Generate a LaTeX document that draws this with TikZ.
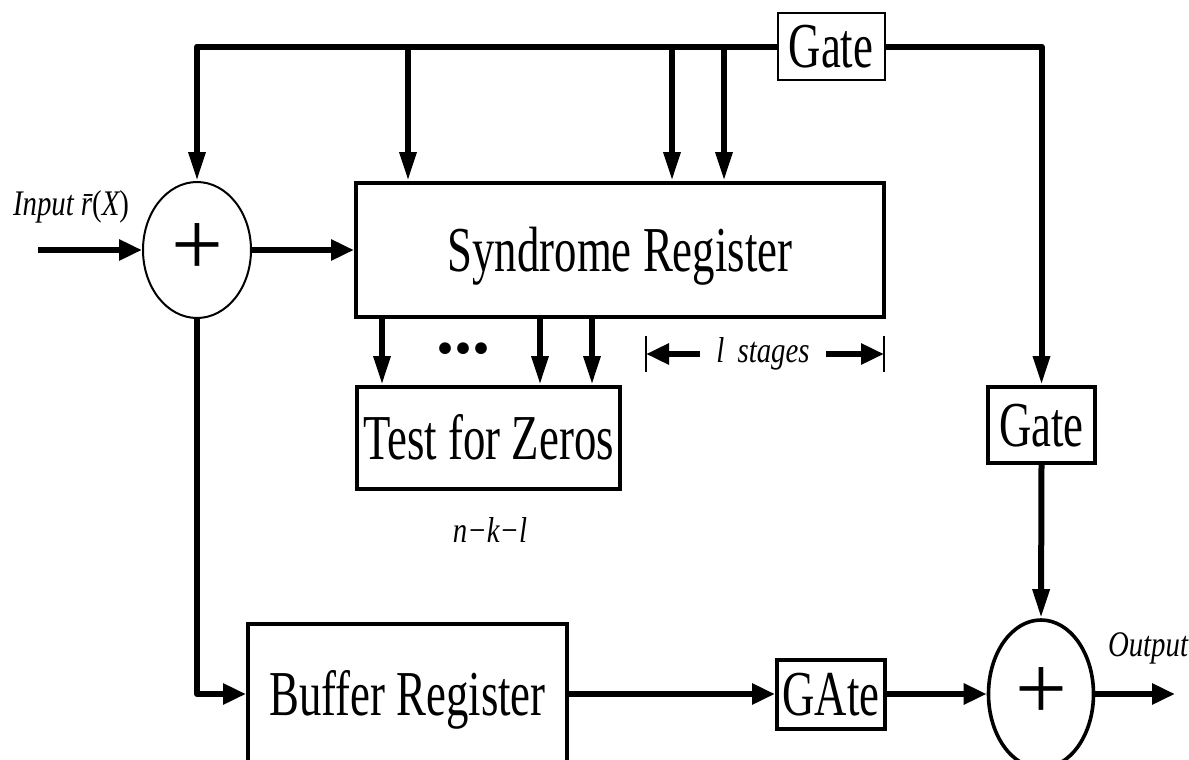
\documentclass[tikz,border=0pt]{standalone}
\usepackage{fontspec}
\setmainfont{Liberation Serif}
\newfontfamily\boxfont[FakeStretch=0.7]{Liberation Serif}
\newfontfamily\lblfont[FakeStretch=0.8]{Liberation Serif}
\usepackage{tikz}
\usetikzlibrary{arrows.meta,shapes,positioning}

\tikzset{
    block/.style={draw, rectangle, line width=2pt, inner sep=0pt,
        font=\boxfont\fontsize{32}{36}\selectfont, text height=21pt, text depth=0pt},
    gatebox/.style={block, minimum width=53.5pt},
    adder/.style={draw, ellipse, inner sep=0pt, font=\fontsize{46}{46}\selectfont},
    wire/.style={line width=3pt, line join=round},
    hwire/.style={wire, -{Triangle[length=11.5pt,width=10pt]}},
    vwire/.style={wire, -{Triangle[length=14.5pt,width=8pt]}},
    note/.style={font=\lblfont\itshape\fontsize{18}{20}\selectfont}
}

\begin{document}
\begin{tikzpicture}[x=0.5pt,y=-0.5pt]
    \useasboundingbox (0,0) rectangle (1189,760);
    \clip (0,0) rectangle (1189,760);

    % blocks
    \node[adder, line width=1pt, minimum width=54pt, minimum height=68pt] (sum1) at (197,250) {+};
    \node[block, minimum width=264pt, minimum height=67pt] (syn) at (620,250) {Syndrome Register};
    \node[block, minimum width=131.5pt, minimum height=51pt] (tz) at (488.5,438) {Test for Zeros};
    \node[gatebox, line width=1pt, minimum height=33.5pt] (gtop) at (831,46.5) {Gate};
    \node[gatebox, minimum height=38pt] (g2) at (1041.5,425) {Gate};
    \node[gatebox, minimum width=54pt, minimum height=34.5pt] (gA) at (831,694) {GAte};
    \node[block, minimum width=159.5pt, minimum height=70pt] (buf) at (407.5,694) {Buffer Register};
    \node[adder, line width=1.8pt, minimum width=52.5pt, minimum height=74pt] (sum2) at (1041,694) {+};

    % labels
    \node[note] (inlbl) at (71,207) {Input \={r}\upshape(\itshape X\upshape)};
    \node[note] (outlbl) at (1148,648) {Output};
    \node[note] (nkl) at (490,530) {n−k−l};
    \node[note, inner sep=8pt] (stg) at (763,354) {l\, stages};
    \node[font=\bfseries\fontsize{36}{36}\selectfont] (dots) at (463,349) {...};

    \coordinate (in) at (38,250);
    \coordinate (out) at (1175,694);
    \coordinate (barL) at (646,354);
    \coordinate (barR) at (884,354);

    % connectors
    \draw[vwire] (gtop.west) -| (sum1.north);
    \draw[vwire] (gtop.east) -| (g2.north);
    \foreach \x in {408,672,724}
        \draw[vwire] (\x,0 |- gtop.west) -- (\x,0 |- syn.north);
    \draw[hwire] (in) -- (sum1.west);
    \draw[hwire] (sum1.east) -- (syn.west);
    \foreach \x in {382,540,592}
        \draw[vwire] (\x,0 |- syn.south) -- (\x,0 |- tz.north);
    \draw[vwire] (g2.south) -- (sum2.north);
    \draw[hwire] (sum1.south) |- (buf.west);
    \draw[hwire] (buf.east) -- (gA.west);
    \draw[hwire] (gA.east) -- (sum2.west);
    \draw[hwire] (sum2.east) -- (out);

    % l stages
    \draw[line width=1pt] ([yshift=9pt]barL) -- ([yshift=-9pt]barL);
    \draw[line width=1pt] ([yshift=9pt]barR) -- ([yshift=-9pt]barR);
    \draw[hwire] (stg.west) -- (barL);
    \draw[hwire] (stg.east) -- (barR);
\end{tikzpicture}
\end{document}
